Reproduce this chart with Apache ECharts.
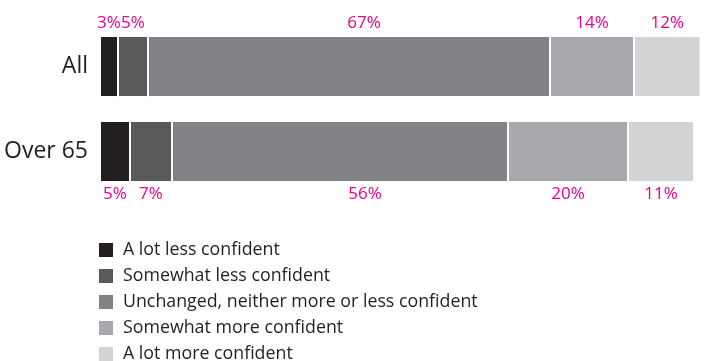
<!DOCTYPE html>
<html>
<head>
<meta charset="utf-8">
<script src="https://cdn.jsdelivr.net/npm/echarts@6/dist/echarts.min.js"></script>
<style>
  html, body { margin: 0; padding: 0; background: #fff; }
  #chart { width: 705px; height: 361px; }
</style>
</head>
<body>
<div id="chart"></div>
<script>
// Groups shown as bars (top to bottom)
const groups = ['All', 'Over 65'];

// Response categories, in stacking order
const responses = [
  'A lot less confident',
  'Somewhat less confident',
  'Unchanged, neither more or less confident',
  'Somewhat more confident',
  'A lot more confident'
];

// Percent of respondents per response, one entry per group
const aLotLess     = [3, 5];
const somewhatLess = [5, 7];
const unchanged    = [67, 56];
const somewhatMore = [14, 20];
const aLotMore     = [12, 11];

const seriesValues = [aLotLess, somewhatLess, unchanged, somewhatMore, aLotMore];
const colors = ['#231f20', '#58595b', '#808285', '#a7a9ac', '#d1d3d4'];
const labelColor = '#ec008c';
const font = '"Open Sans", "DejaVu Sans", sans-serif';

const chart = echarts.init(document.getElementById('chart'));

const series = responses.map((name, si) => ({
  name,
  type: 'bar',
  stack: 'total',
  barWidth: 61,
  itemStyle: { color: colors[si], borderColor: '#fff', borderWidth: 1 },
  data: seriesValues[si].map((v, gi) => ({
    value: v,
    label: {
      show: true,
      position: gi === 0 ? 'top' : 'bottom',
      distance: 4,
      offset: si === 2 ? [gi === 0 ? 15 : 25, 0] : [0, 0],
      formatter: '{c}%',
      color: labelColor,
      fontFamily: font,
      fontSize: 17
    }
  }))
}));

chart.setOption({
  animation: false,
  grid: { left: 100, right: 5, top: 24, height: 170, containLabel: false },
  xAxis: {
    type: 'value',
    min: 0,
    max: 100,
    show: false
  },
  yAxis: {
    type: 'category',
    data: groups,
    inverse: true,
    axisLine: { show: false },
    axisTick: { show: false },
    axisLabel: {
      margin: 12,
      color: '#231f20',
      fontFamily: font,
      fontSize: 23
    }
  },
  legend: {
    orient: 'vertical',
    left: 97,
    top: 241,
    height: 200,
    padding: 0,
    itemWidth: 16,
    itemHeight: 16,
    itemGap: 8,
    icon: 'rect',
    selectedMode: false,
    textStyle: {
      color: '#231f20',
      fontFamily: font,
      fontSize: 17.8,
      lineHeight: 16,
      padding: [0, 0, 0, 4]
    },
    data: responses
  },
  series
});
</script>
</body>
</html>
